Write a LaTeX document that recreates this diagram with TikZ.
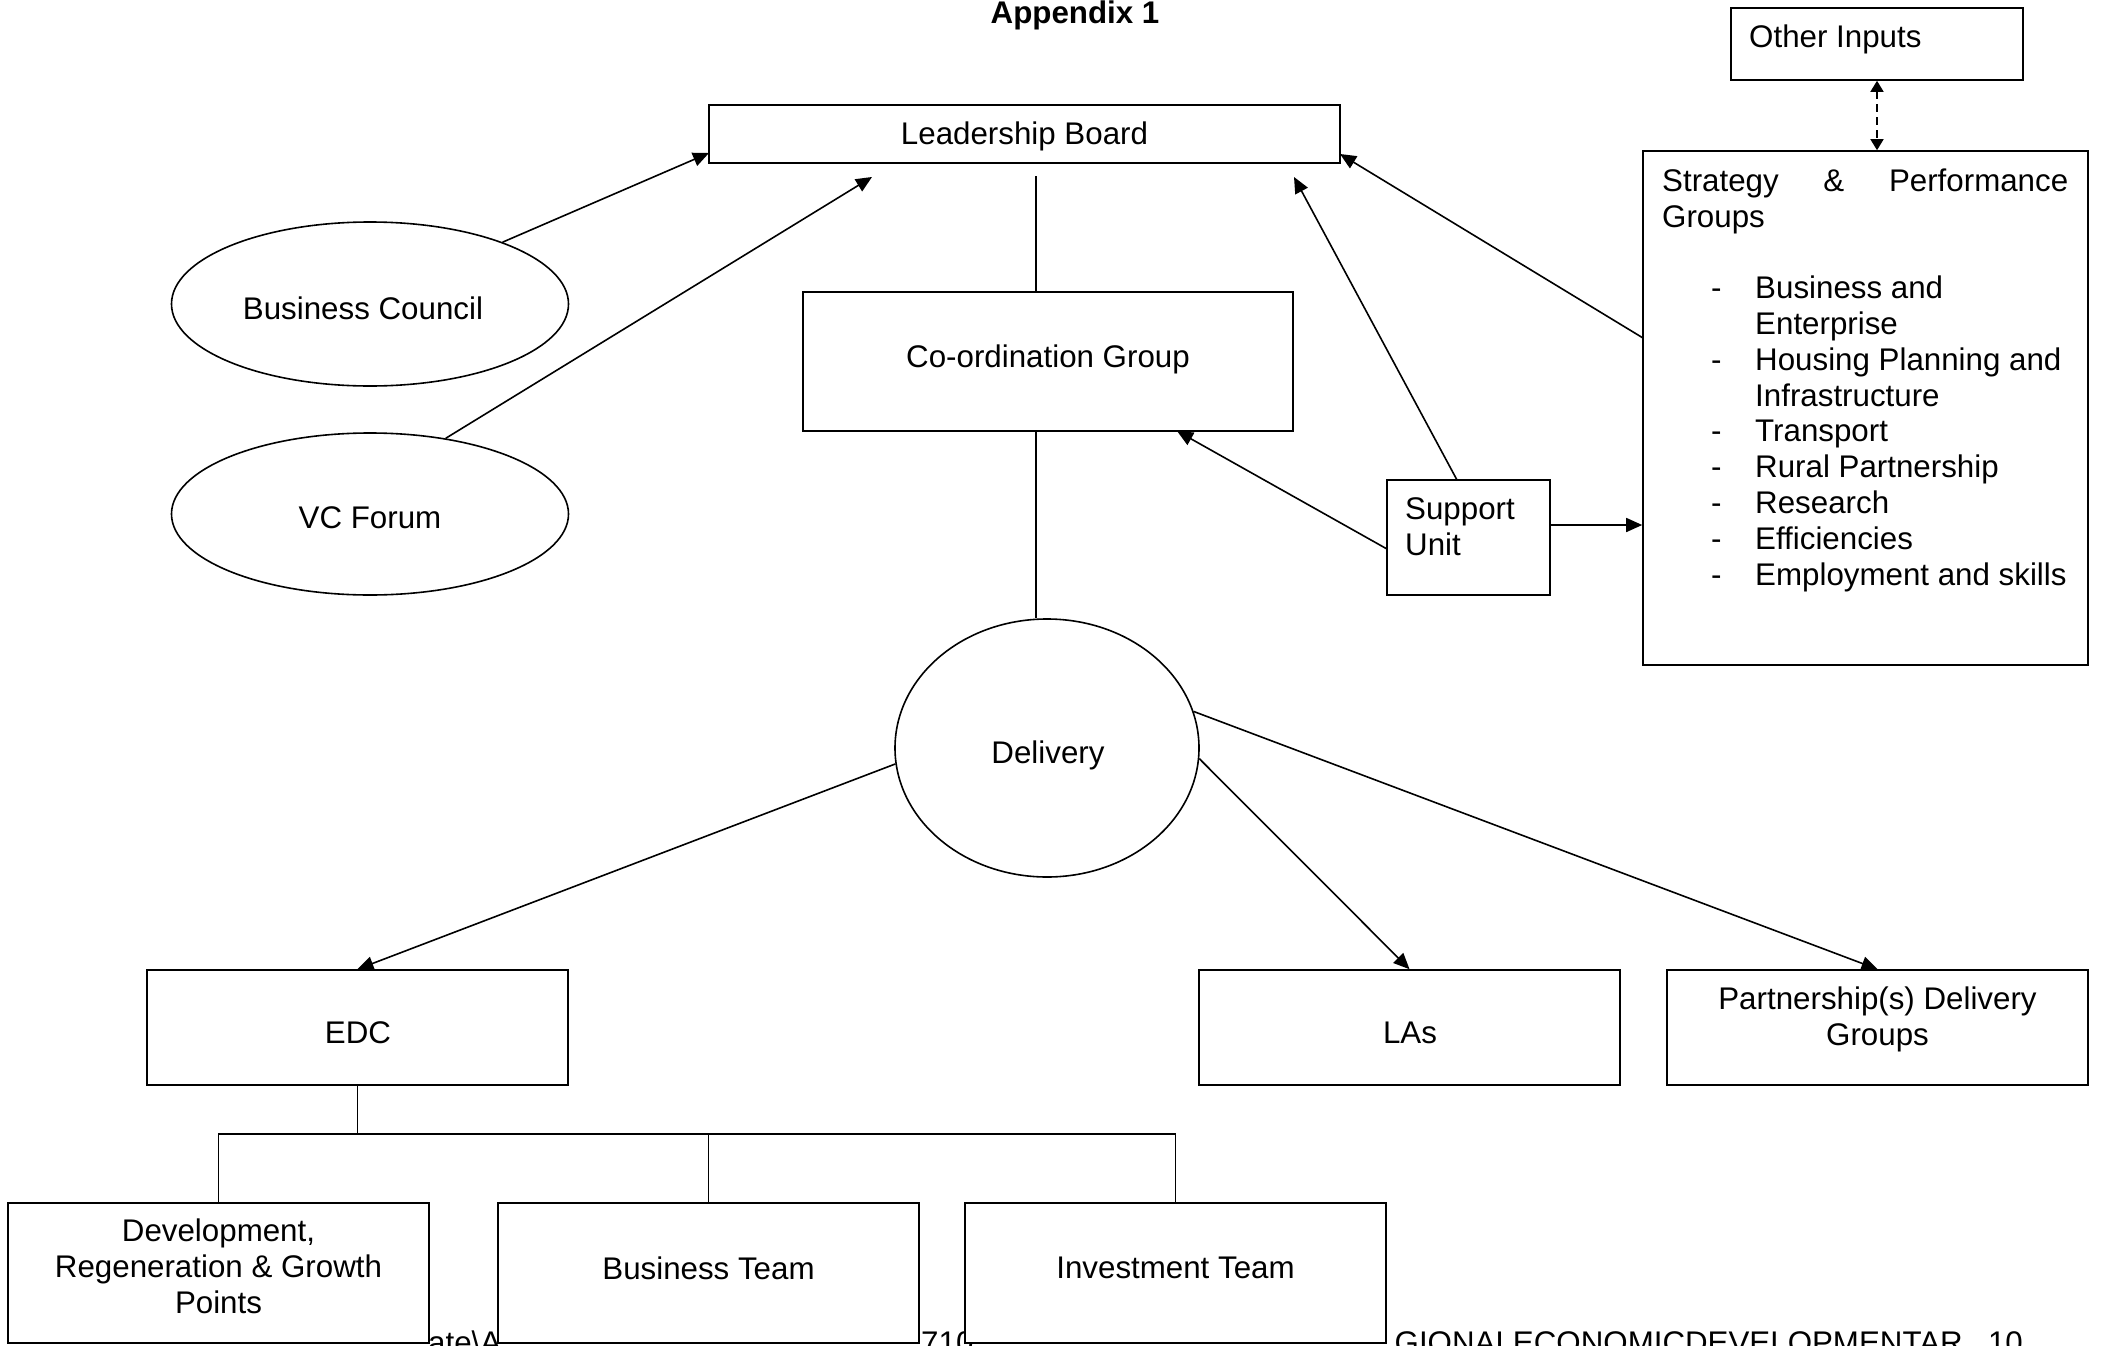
\documentclass[tikz,border=0pt]{standalone}
\usepackage{fontspec}
\setmainfont{Liberation Sans}
\usetikzlibrary{arrows.meta,shapes.geometric}
\tikzset{
  every node/.style={font=\fontsize{31.3}{36}\selectfont},
  box/.style={draw, line width=1.6pt, fill=white, inner sep=0pt, align=center},
  oval/.style={ellipse, draw, line width=1.6pt, fill=white, inner sep=0pt},
  txt/.style={anchor=base west, inner sep=0pt},
  ctxt/.style={inner sep=0pt, align=center},
  conn/.style={line width=1.6pt},
  arr/.style={line width=1.6pt, -{Triangle[length=16pt,width=14pt]}},
  darr/.style={line width=1.6pt, dash pattern=on 8pt off 5pt, {Triangle[length=11pt,width=13pt]}-{Triangle[length=11pt,width=13pt]}}
}
\begin{document}
\begin{tikzpicture}[x=1pt,y=-1pt]
\useasboundingbox (0,0) rectangle (2101,1346);
\fill[white] (0,0) rectangle (2101,1346);

% title
\node[anchor=base, inner sep=0pt, font=\fontsize{31.3}{36}\selectfont\bfseries] (title) at (1075,24) {Appendix 1};

% footer fragments (partly hidden by the boxes)
\node[txt] (f1) at (428,1353) {ate\textbackslash A};
\node[txt] (f2) at (921,1353) {710};
\node[anchor=base east, inner sep=0pt] (f3) at (1963,1353) {GIONALECONOMICDEVELOPMENTAR};
\node[anchor=base east, inner sep=0pt] (f4) at (2023,1353) {10};

% boxes
\node[box, minimum width=292pt, minimum height=72pt] (oi) at (1877,44) {};
\node[txt] (oit) at (1749,48) {Other Inputs};

\node[box, minimum width=631pt, minimum height=58pt] (lb) at (1024.5,134) {};
\node[ctxt] (lbt) at (1024.5,136) {Leadership Board};
\node[box, minimum width=490pt, minimum height=139pt] (cg) at (1048,361.5) {};
\node[ctxt] (cgt) at (1048,359) {Co-ordination Group};

\node[box, minimum width=163pt, minimum height=115pt] (su) at (1468.5,537.5) {};
\node[txt] (su1) at (1405,519) {Support};
\node[txt] (su2) at (1405,555) {Unit};

\node[box, minimum width=445pt, minimum height=514pt] (sg) at (1865.5,408) {};
\node[txt] (sgh1) at (1662,191) {\makebox[406pt][s]{Strategy \& Performance}};
\node[txt] (sgh2) at (1662,227) {Groups};
\foreach \y/\t [count=\i] in {298/Business and, 334/Enterprise, 370/Housing Planning and, 406/Infrastructure, 441/Transport, 477/Rural Partnership, 513/Research, 549/Efficiencies, 585/Employment and skills}{
  \node[txt] (sgi\i) at (1755,\y) {\t};
}
\foreach \y [count=\i] in {298,370,441,477,513,549,585}{
  \node[txt] (sgd\i) at (1711,\y) {-};
}

\node[oval, minimum width=397pt, minimum height=164pt] (bc) at (370,304) {};
\node[inner sep=0pt] (bct) at (363,308) {Business Council};
\node[oval, minimum width=397pt, minimum height=162pt] (vc) at (370,514) {};
\node[inner sep=0pt] (vct) at (370,518) {VC Forum};

\node[oval, minimum width=304pt, minimum height=258pt] (del) at (1047,748) {};
\node[inner sep=0pt] (delt) at (1048,755) {Delivery};

\node[box, minimum width=421pt, minimum height=115pt] (edc) at (357.5,1027.5) {};
\node[ctxt] (edct) at (358,1033) {EDC};
\node[box, minimum width=421pt, minimum height=115pt] (las) at (1409.5,1027.5) {};
\node[ctxt] (last) at (1410,1033) {LAs};
\node[box, minimum width=421pt, minimum height=115pt] (pdg) at (1877.5,1027.5) {};
\node[ctxt] (pdgt) at (1877.5,1019) {Partnership(s) Delivery\\Groups};

\node[box, minimum width=421pt, minimum height=140pt] (dev) at (218.5,1273) {};
\node[ctxt] (devt) at (218.5,1266) {Development,\\Regeneration \& Growth\\Points};
\node[box, minimum width=421pt, minimum height=140pt] (bt) at (708.5,1273) {};
\node[ctxt] (btt) at (708.5,1268) {Business Team};
\node[box, minimum width=421pt, minimum height=140pt] (it) at (1175.5,1273) {};
\node[ctxt] (itt) at (1175.5,1268) {Investment Team};

% free ends
\coordinate (lbA) at (709,153);
\coordinate (lbB) at (872,177);
\coordinate (lbC) at (1036,176);
\coordinate (lbD) at (1294,177);
\coordinate (lbE) at (1340,154);
\coordinate (cgB) at (1036,431);
\coordinate (cgS) at (1177,431);
\coordinate (sgW) at (1643,338);
\coordinate (suW) at (1387,549);
\coordinate (suN) at (1457,480);
\coordinate (tj) at (359,1134);

% connectors
\draw[arr] (bc.25) -- (lbA);
\draw[arr] (vc.45) -- (lbB);
\draw[conn] (lbC) -- (cg.north -| lbC);
\draw[conn] (cgB) -- (del.north -| cgB);
\draw[arr] (suN) -- (lbD);
\draw[arr] (sgW) -- (lbE);
\draw[arr] (suW) -- (cgS);
\draw[arr] (su.east |- 0,525) -- (sg.west |- 0,525);
\draw[darr] (oi.south) -- (oi.south |- sg.north);
\draw[arr] (del.186) -- (edc.north);
\draw[arr] (del.-4) -- (las.north);
\draw[arr] (del.14) -- (pdg.north);

% EDC tree
\draw[conn] (edc.south) -- (edc.south |- tj);
\draw[conn] (dev.north) -- (dev.north |- tj) -| (it.north);
\draw[conn] (bt.north) -- (bt.north |- tj);
\end{tikzpicture}
\end{document}
